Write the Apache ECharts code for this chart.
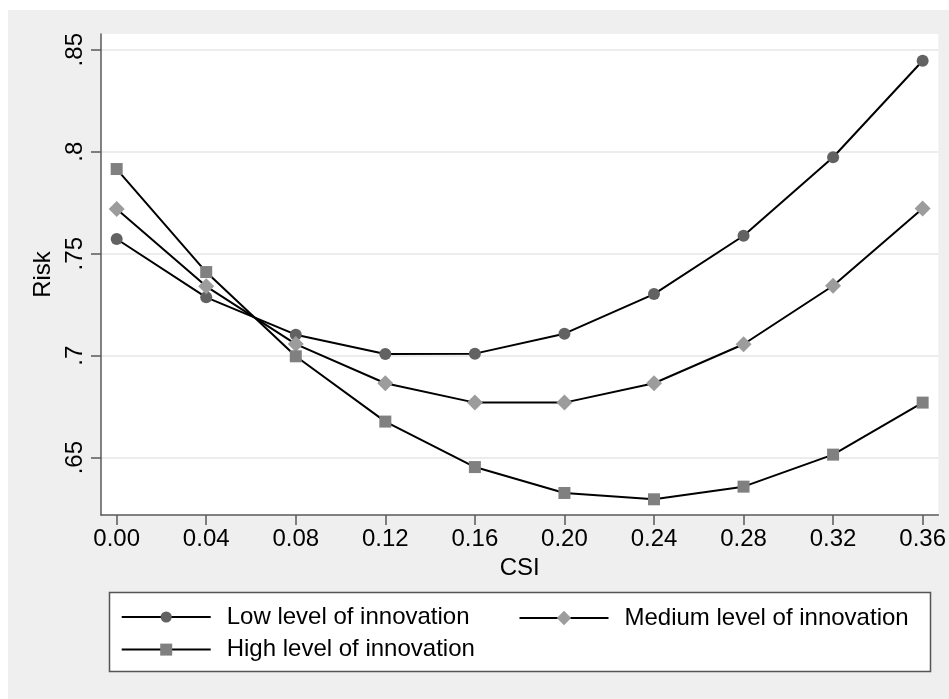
<!DOCTYPE html>
<html>
<head>
<meta charset="utf-8">
<script src="https://cdn.jsdelivr.net/npm/echarts@6/dist/echarts.min.js"></script>
<style>
html,body{margin:0;padding:0;background:#fff;}
#chart{width:949px;height:699px;}
</style>
</head>
<body>
<div id="chart"></div>
<script>
// Data
const csi = [0, 0.04, 0.08, 0.12, 0.16, 0.2, 0.24, 0.28, 0.32, 0.36];
const xTickLabels = ['0.00','0.04','0.08','0.12','0.16','0.20','0.24','0.28','0.32','0.36'];
const yTickValues = [0.65, 0.7, 0.75, 0.8, 0.85];
const yTickLabels = ['.65', '.7', '.75', '.8', '.85'];
const lowInnovation    = [0.7572, 0.7286, 0.7103, 0.7008, 0.7010, 0.7108, 0.7302, 0.7588, 0.7973, 0.8446];
const mediumInnovation = [0.7719, 0.7340, 0.7057, 0.6865, 0.6770, 0.6770, 0.6865, 0.7056, 0.7343, 0.7721];
const highInnovation   = [0.7915, 0.7410, 0.6997, 0.6677, 0.6454, 0.6327, 0.6296, 0.6358, 0.6515, 0.6770];
const seriesNames = ['Low level of innovation', 'Medium level of innovation', 'High level of innovation'];

const FONT = '"Liberation Sans", Arial, Helvetica, sans-serif';
const pairs = arr => csi.map((x, i) => [x, arr[i]]);
function lookup(values, labels, v) {
  for (let i = 0; i < values.length; i++) if (Math.abs(values[i] - v) < 1e-6) return labels[i];
  return '';
}

const chart = echarts.init(document.getElementById('chart'), null, {renderer: 'canvas'});

const legendBase = {
  orient: 'horizontal', padding: 0, itemGap: 0,
  itemWidth: 89, itemHeight: 14, z: 10,
  textStyle: {fontSize: 24, color: '#000', fontFamily: FONT, padding: [0, 0, 0, 11]},
  selectedMode: false
};

chart.setOption({
  animation: false,
  backgroundColor: '#ffffff',
  graphic: [
    {type: 'rect', z: -10, silent: true, shape: {x: 8, y: 10, width: 941, height: 689}, style: {fill: '#efefef'}},
    {type: 'rect', z: 1, silent: true, shape: {x: 109.5, y: 592.5, width: 821, height: 79}, style: {fill: '#ffffff', stroke: '#555555', lineWidth: 1.5}}
  ],
  grid: {left: 101, top: 34, right: 9.7, height: 481, show: true, backgroundColor: '#ffffff', borderWidth: 0, containLabel: false},
  xAxis: {
    type: 'value', min: -0.007, max: 0.367,
    name: 'CSI', nameLocation: 'middle', nameGap: 40,
    nameTextStyle: {fontSize: 24, color: '#000', fontFamily: FONT},
    axisLine: {show: true, onZero: false, lineStyle: {color: '#5a5a5a', width: 1.5}},
    axisTick: {show: true, length: 10, customValues: csi, lineStyle: {color: '#5a5a5a', width: 1.5}},
    axisLabel: {customValues: csi, margin: 12, fontSize: 24, color: '#000', fontFamily: FONT,
      formatter: v => lookup(csi, xTickLabels, v)},
    splitLine: {show: false}
  },
  yAxis: {
    type: 'value', min: 0.6219, max: 0.8577,
    name: 'Risk', nameLocation: 'middle', nameGap: 39,
    nameTextStyle: {fontSize: 24, color: '#000', fontFamily: FONT},
    axisLine: {show: true, onZero: false, lineStyle: {color: '#5a5a5a', width: 1.5}},
    axisTick: {show: true, length: 10, customValues: yTickValues, lineStyle: {color: '#5a5a5a', width: 1.5}},
    axisLabel: {customValues: yTickValues, rotate: 90, margin: 14, fontSize: 24, color: '#000', fontFamily: FONT,
      formatter: v => lookup(yTickValues, yTickLabels, v)},
    splitLine: {show: true, lineStyle: {color: '#e6e6e6', width: 1.5}}
  },
  legend: [
    Object.assign({}, legendBase, {data: [seriesNames[0]], left: 120.7, top: 605}),
    Object.assign({}, legendBase, {data: [seriesNames[1]], left: 518.5, top: 606, itemHeight: 18}),
    Object.assign({}, legendBase, {data: [seriesNames[2]], left: 120.7, top: 637.6, itemHeight: 15})
  ],
  series: [
    {name: seriesNames[0], type: 'line', data: pairs(lowInnovation), symbol: 'circle', symbolSize: 12,
      itemStyle: {color: '#626262'}, lineStyle: {color: '#000', width: 2}, z: 3},
    {name: seriesNames[1], type: 'line', data: pairs(mediumInnovation), symbol: 'diamond', symbolSize: 16,
      itemStyle: {color: '#9c9c9c'}, lineStyle: {color: '#000', width: 2}, z: 3},
    {name: seriesNames[2], type: 'line', data: pairs(highInnovation), symbol: 'rect', symbolSize: 12,
      itemStyle: {color: '#808080'}, lineStyle: {color: '#000', width: 2}, z: 3}
  ]
});
</script>
</body>
</html>
